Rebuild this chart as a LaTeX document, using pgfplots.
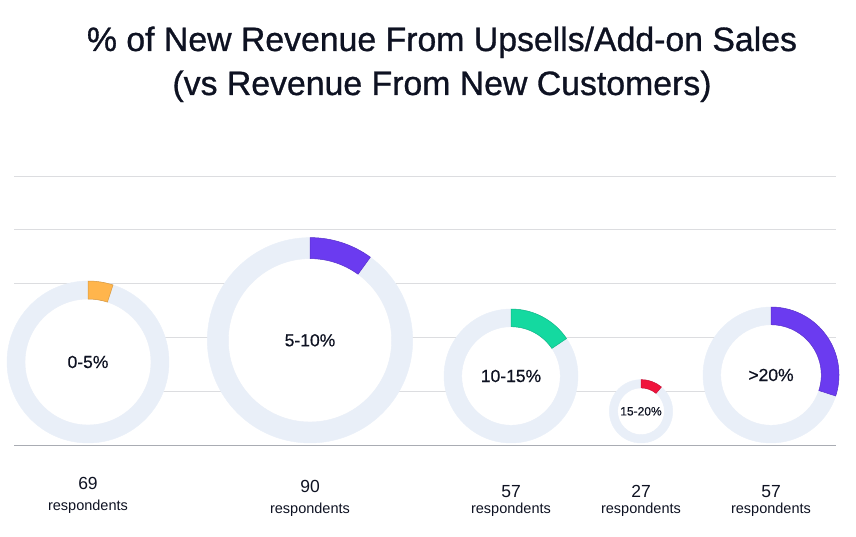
\documentclass[border=0pt]{standalone}
\usepackage{fontspec}
\setmainfont{Liberation Sans}
\newfontfamily\medfont{Liberation Sans}[FakeBold=0.9]
\newfontfamily\semfont{Liberation Sans}[FakeBold=0.5]
\usepackage{pgfplots}
\usepackage{pgfplotstable}
\pgfplotsset{compat=1.18}
\definecolor{ringc}{HTML}{E9EFF8}
\definecolor{gridc}{HTML}{DCDDE0}
\definecolor{basec}{HTML}{A9ACB3}
\definecolor{cOrange}{HTML}{FFB54C}
\definecolor{cPurple}{HTML}{6B3BF0}
\definecolor{cGreen}{HTML}{14D9A0}
\definecolor{cRed}{HTML}{F0143C}
\definecolor{txt}{HTML}{0E1222}
\pgfdeclareplotmark{blank}{}
\newcommand\donutlabel[1]{\ifcase#1 0-5\%\or 5-10\%\or 10-15\%\or 15-20\%\or >20\%\fi}
\newcommand\donutcolor[1]{\ifcase#1 cOrange\or cPurple\or cGreen\or cRed\or cPurple\fi}

% k: category index, x: centre, y: centre, R: outer radius, W: ring width,
% A: arc angle (deg), n: respondents, fs: label size, nb/rb: baselines of bottom labels
\pgfplotstableread{
k x y R W A n fs nb rb
0 88 174 81 18 18 69 17.5 47 26
1 310 195.7 102.7 21 36 90 17.5 44 23
2 511 160 67 17.7 56 57 17.5 39 23
3 641 124.7 31.7 8.3 40 27 12 39 23
4 771 161 68 17.7 108 57 17.5 39 23
}\donuts

\begin{document}
\begin{tikzpicture}
\begin{axis}[
  x=1pt, y=1pt,
  xmin=14, xmax=836, ymin=91, ymax=361,
  clip=false,
  axis line style={draw=none},
  tick style={draw=none},
  xtick=\empty,
  ytick={144.8,198.6,252.4,306.2,360},
  yticklabels={},
  ymajorgrids,
  grid style={color=gridc, line width=0.8pt},
  extra y ticks={91},
  extra y tick labels={},
  extra y tick style={grid style={color=basec, line width=1pt}},
]
\coordinate (bl) at (axis cs:0,0);
\coordinate (tr) at (axis cs:856,536);
\addplot[scatter, only marks, mark=blank,
  visualization depends on={\thisrow{k}\as\dK},
  visualization depends on={\thisrow{R}\as\dR},
  visualization depends on={\thisrow{W}\as\dW},
  visualization depends on={\thisrow{A}\as\dA},
  visualization depends on={\thisrow{y}\as\dY},
  visualization depends on={\thisrow{n}\as\dN},
  visualization depends on={\thisrow{fs}\as\dF},
  visualization depends on={\thisrow{nb}\as\dNB},
  visualization depends on={\thisrow{rb}\as\dRB},
  scatter/@pre marker code/.code={%
    \pgfmathtruncatemacro\kk{\dK}%
    \pgfmathtruncatemacro\nn{\dN}%
    \edef\cc{\donutcolor{\kk}}%
    \fill[white] (0pt,0pt) circle[radius={\dR pt-\dW pt}];
    \fill[ringc, even odd rule] (0pt,0pt) circle[radius={\dR pt}] circle[radius={\dR pt-\dW pt}];
    \filldraw[fill=\cc, draw=\cc!85!black, line width=0.5pt] (90:{\dR pt}) arc[start angle=90, end angle={90-\dA}, radius={\dR pt}] -- ({90-\dA}:{\dR pt-\dW pt}) arc[start angle={90-\dA}, end angle=90, radius={\dR pt-\dW pt}] -- cycle;
    \node[text=txt, font=\semfont\fontsize{\dF}{\dF}\selectfont] at (0pt,0pt) {\donutlabel{\kk}};
    \node[text=txt, anchor=base, font=\fontsize{17.5}{18}\selectfont] at (0pt,{\dNB pt-\dY pt}) {\nn};
    \node[text=txt, anchor=base, font=\fontsize{14.5}{15}\selectfont] at (0pt,{\dRB pt-\dY pt}) {respondents};
  },
  scatter/@post marker code/.code={},
] table[x=x, y=y] {\donuts};
\node[anchor=base, text=txt, font=\medfont\fontsize{33.8}{40}\selectfont] at (axis cs:442,485) {\% of New Revenue From Upsells/Add-on Sales};
\node[anchor=base, text=txt, font=\medfont\fontsize{33.8}{40}\selectfont] at (axis cs:442,441) {(vs Revenue From New Customers)};
\end{axis}
\pgfresetboundingbox
\path (bl) rectangle (tr);
\end{tikzpicture}
\end{document}
